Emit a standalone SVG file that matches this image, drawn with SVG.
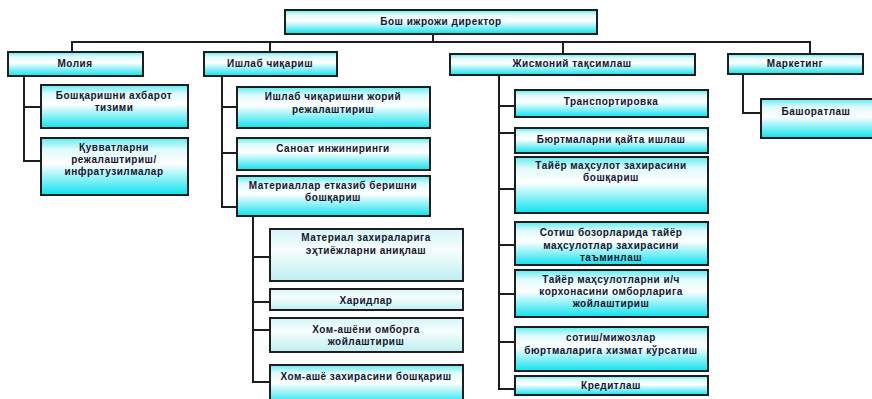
<svg xmlns="http://www.w3.org/2000/svg" width="872" height="399" viewBox="0 0 872 399">
  <defs>
    <!-- cyan / white / cyan box fill -->
    <linearGradient id="fillCyan" x1="0" y1="0" x2="0" y2="1">
      <stop offset="0" stop-color="#5eecf2"/>
      <stop offset="0.2" stop-color="#dffafb"/>
      <stop offset="0.45" stop-color="#ffffff"/>
      <stop offset="1" stop-color="#0fe2ee"/>
    </linearGradient>
    <!-- paler fill for the supply sub-boxes -->
    <linearGradient id="fillPale" x1="0" y1="0" x2="0" y2="1">
      <stop offset="0" stop-color="#d6f5f7"/>
      <stop offset="0.4" stop-color="#f6fdfd"/>
      <stop offset="1" stop-color="#bdeff2"/>
    </linearGradient>
    <style>
      .box { fill: url(#fillCyan); stroke: #1e1e1e; stroke-width: 2; }
      .pale { fill: url(#fillPale); }
      .lbl { font-family: "Liberation Sans", Arial, sans-serif; font-weight: bold; font-size: 10px; fill: #15152e; text-anchor: middle; letter-spacing: 0.5px; }
      .wire { fill: none; stroke: #1e1e1e; stroke-width: 2; }
    </style>
  </defs>

  <rect width="872" height="399" fill="#ffffff"/>

  <!-- connectors -->
  <g id="connectors" class="wire">
    <path d="M433 34 V42 M72 52 V42 H810 V54 M270 42 V52 M563 42 V54"/>
    <!-- Молия -->
    <path d="M24 76 V161 H41 M24 107 H41"/>
    <!-- Ишлаб чиқариш -->
    <path d="M222 76 V207 H237 M222 107 H237 M222 153 H237"/>
    <!-- Материаллар етказиб бериш -->
    <path d="M253 216 V382 H270 M253 257 H270 M253 302 H270 M253 330 H270"/>
    <!-- Жисмоний тақсимлаш -->
    <path d="M499 75 V389 H515 M499 106 H515 M499 133 H515 M499 189 H515 M499 245 H515 M499 294 H515 M499 342 H515"/>
    <!-- Маркетинг -->
    <path d="M743 74 V113 H761"/>
  </g>

  <g id="director">
    <rect class="box" x="285" y="10" width="312" height="24"/>
    <text class="lbl" x="441" y="25">Бош ижрожи директор</text>
  </g>

  <g id="finance">
    <rect class="box" x="8" y="52" width="135" height="24"/>
    <text class="lbl" x="75" y="67">Молия</text>
  </g>
  <g id="production">
    <rect class="box" x="204" y="52" width="133" height="24"/>
    <text class="lbl" x="270" y="67">Ишлаб чиқариш</text>
  </g>
  <g id="distribution">
    <rect class="box" x="450" y="54" width="245" height="21"/>
    <text class="lbl" x="572" y="67">Жисмоний тақсимлаш</text>
  </g>
  <g id="marketing">
    <rect class="box" x="728" y="54" width="135" height="20"/>
    <text class="lbl" x="795" y="67">Маркетинг</text>
  </g>

  <!-- Молия -->
  <g id="mis">
    <rect class="box" x="41" y="85" width="147" height="43"/>
    <text class="lbl" x="114" y="98.5">Бошқаришни ахбарот<tspan x="114" dy="12">тизими</tspan></text>
  </g>
  <g id="capacity">
    <rect class="box" x="41" y="138" width="147" height="57"/>
    <text class="lbl" x="114" y="150.5">Қувватларни<tspan x="114" dy="12">режалаштириш/</tspan><tspan x="114" dy="12">инфратузилмалар</tspan></text>
  </g>

  <!-- Ишлаб чиқариш -->
  <g id="prod-planning">
    <rect class="box" x="237" y="87" width="193" height="41"/>
    <text class="lbl" x="333" y="100">Ишлаб чиқаришни жорий<tspan x="333" dy="13">режалаштириш</tspan></text>
  </g>
  <g id="engineering">
    <rect class="box" x="237" y="138" width="193" height="32"/>
    <text class="lbl" x="333" y="152">Саноат инжиниринги</text>
  </g>
  <g id="supply">
    <rect class="box" x="237" y="176" width="193" height="40"/>
    <text class="lbl" x="333" y="189">Материаллар етказиб беришни<tspan x="333" dy="11.5">бошқариш</tspan></text>
  </g>

  <!-- Материаллар етказиб бериш -->
  <g id="material-needs">
    <rect class="box pale" x="270" y="229" width="193" height="52"/>
    <text class="lbl" x="366" y="241">Материал захираларига<tspan x="366" dy="13">эҳтиёжларни аниқлаш</tspan></text>
  </g>
  <g id="purchasing">
    <rect class="box pale" x="270" y="289" width="193" height="21"/>
    <text class="lbl" x="366" y="304">Харидлар</text>
  </g>
  <g id="raw-storage">
    <rect class="box pale" x="270" y="318" width="193" height="34"/>
    <text class="lbl" x="366" y="333">Хом-ашёни омборга<tspan x="366" dy="12">жойлаштириш</tspan></text>
  </g>
  <g id="raw-stock">
    <rect class="box" x="270" y="365" width="193" height="40"/>
    <text class="lbl" x="366" y="380">Хом-ашё захирасини бошқариш</text>
  </g>

  <!-- Жисмоний тақсимлаш -->
  <g id="transport">
    <rect class="box" x="515" y="90" width="193" height="27"/>
    <text class="lbl" x="611" y="105">Транспортировка</text>
  </g>
  <g id="order-processing">
    <rect class="box" x="515" y="128" width="193" height="25"/>
    <text class="lbl" x="611" y="143">Бюртмаларни қайта ишлаш</text>
  </g>
  <g id="finished-stock">
    <rect class="box" x="515" y="157" width="193" height="56"/>
    <text class="lbl" x="611" y="169">Тайёр маҳсулот захирасини<tspan x="611" dy="12">бошқариш</tspan></text>
  </g>
  <g id="market-stock">
    <rect class="box" x="515" y="222" width="193" height="43"/>
    <text class="lbl" x="611" y="236">Сотиш бозорларида тайёр<tspan x="611" dy="12.5">маҳсулотлар захирасини</tspan><tspan x="611" dy="12.5">таъминлаш</tspan></text>
  </g>
  <g id="warehousing">
    <rect class="box" x="515" y="270" width="193" height="47"/>
    <text class="lbl" x="611" y="283">Тайёр маҳсулотларни и/ч<tspan x="611" dy="12">корхонасини омборларига</tspan><tspan x="611" dy="12">жойлаштириш</tspan></text>
  </g>
  <g id="customer-service">
    <rect class="box" x="515" y="327" width="193" height="44"/>
    <text class="lbl" x="611" y="341">сотиш/мижозлар<tspan x="611" dy="13">бюртмаларига  хизмат кўрсатиш</tspan></text>
  </g>
  <g id="credit">
    <rect class="box" x="515" y="376" width="193" height="19"/>
    <text class="lbl" x="611" y="389">Кредитлаш</text>
  </g>

  <!-- Маркетинг -->
  <g id="forecasting">
    <rect class="box" x="761" y="99" width="112" height="39"/>
    <text class="lbl" x="816" y="115">Башоратлаш</text>
  </g>
</svg>
